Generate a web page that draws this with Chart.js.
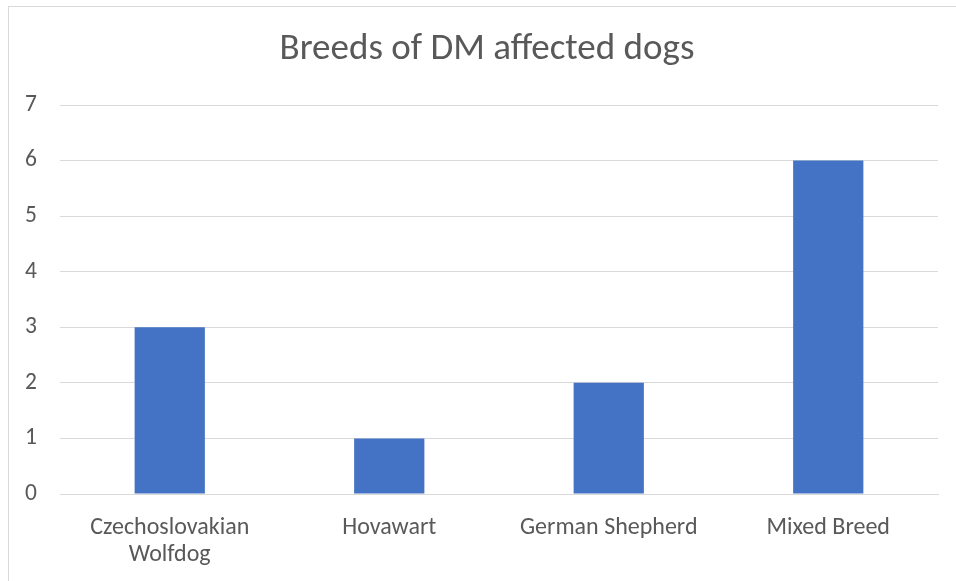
<!DOCTYPE html>
<html>
<head>
<meta charset="utf-8">
<title>Breeds of DM affected dogs</title>
<script src="https://cdn.jsdelivr.net/npm/chart.js@4.4.1/dist/chart.umd.min.js"></script>
<style>
    body { margin: 0; background: #fff; }
    #wrap { position: relative; width: 956px; height: 581px; overflow: hidden; }
    #frame {
        position: absolute; left: 8px; top: 6px; width: 980px; height: 620px;
        border: 1px solid #d9d9d9; pointer-events: none;
    }
</style>
</head>
<body>
<div id="wrap">
    <canvas id="breedChart"></canvas>
    <div id="frame"></div>
</div>
<script>
const chartTitle = 'Breeds of DM affected dogs';
const breeds = [['Czechoslovakian', 'Wolfdog'], 'Hovawart', 'German Shepherd', 'Mixed Breed'];
const dogCounts = [3, 1, 2, 6];
const yTicks = [0, 1, 2, 3, 4, 5, 6, 7];

const textColor = '#595959';
const gridColor = '#d9d9d9';
const fontFamily = 'Carlito, Lato, sans-serif';

let breedChart;

// Title is centred on the outer frame rather than on the plot, so draw it by hand
const frameTitle = {
    id: 'frameTitle',
    afterDraw(chart) {
        const ctx = chart.ctx;
        ctx.save();
        ctx.fillStyle = textColor;
        ctx.font = '37px ' + fontFamily;
        ctx.textAlign = 'center';
        ctx.textBaseline = 'middle';
        ctx.fillText(chartTitle, 487, 50);
        ctx.restore();
    }
};

function initializeChart() {
    const ctx = document.getElementById('breedChart').getContext('2d');
    breedChart = new Chart(ctx, {
        type: 'bar',
        data: {
            labels: breeds,
            datasets: [{
                label: 'Dogs',
                data: dogCounts,
                backgroundColor: '#4472c4',
                borderWidth: 0,
                categoryPercentage: 1,
                barPercentage: 0.32
            }]
        },
        options: {
            responsive: true,
            maintainAspectRatio: false,
            animation: false,
            layout: { padding: { left: 0, right: 18, top: 105, bottom: 0 } },
            plugins: {
                legend: { display: false },
                tooltip: { enabled: false },
                title: { display: false }
            },
            scales: {
                x: {
                    grid: { display: false, drawTicks: false },
                    border: { display: true, color: gridColor, width: 1 },
                    ticks: {
                        color: textColor,
                        padding: 20,
                        maxRotation: 0,
                        autoSkip: false,
                        font: { family: fontFamily, size: 24, lineHeight: 1.13 }
                    },
                    afterFit: scale => { scale.height = 87; }
                },
                y: {
                    min: 0,
                    max: 7,
                    afterBuildTicks: scale => {
                        scale.ticks = yTicks.map(v => ({ value: v }));
                    },
                    grid: { color: gridColor, lineWidth: 1, drawTicks: false },
                    border: { display: false },
                    ticks: {
                        color: textColor,
                        padding: 23,
                        font: { family: fontFamily, size: 23.5 }
                    },
                    afterFit: scale => { scale.width = 60; }
                }
            }
        },
        plugins: [frameTitle]
    });
}

initializeChart();
</script>
</body>
</html>
